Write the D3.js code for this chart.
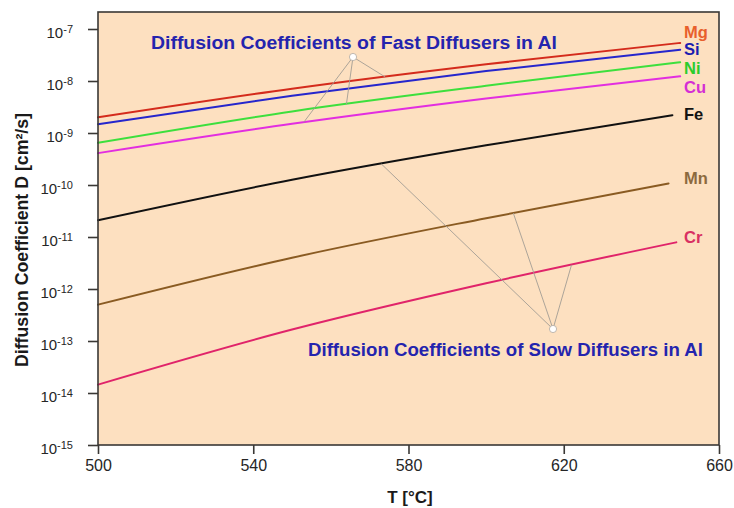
<!DOCTYPE html>
<html>
<head>
<meta charset="utf-8">
<script src="https://cdn.jsdelivr.net/npm/d3@7/dist/d3.min.js"></script>
<style>
  html, body { margin: 0; padding: 0; background: #ffffff; }
  svg { display: block; font-family: Arial, "Liberation Sans", Helvetica, sans-serif; }
</style>
</head>
<body>
<svg id="chart" width="734" height="508"></svg>
<script>
// Diffusion coefficients of alloying elements in aluminium, D [cm²/s]
const elements = ["Mg", "Si", "Ni", "Cu", "Fe", "Mn", "Cr"];
const temps = [500, 550, 600];                       // °C, common sample points
const endTemps = [650, 650, 650, 650, 648, 647, 649]; // last point of each curve
const valuesMg = [2.0e-9, 7.1e-9, 2.1e-8, 5.4e-8];
const valuesSi = [1.48e-9, 5.2e-9, 1.55e-8, 4.0e-8];
const valuesNi = [6.5e-10, 2.6e-9, 8.1e-9, 2.3e-8];
const valuesCu = [4.1e-10, 1.5e-9, 4.6e-9, 1.23e-8];
const valuesFe = [2.1e-11, 1.26e-10, 5.8e-10, 2.2e-9];
const valuesMn = [5.0e-13, 4.0e-12, 2.3e-11, 1.07e-10];
const valuesCr = [1.45e-14, 1.66e-13, 1.29e-12, 7.9e-12];
const xTicks = [500, 540, 580, 620, 660];
const yExponents = [-7, -8, -9, -10, -11, -12, -13, -14, -15];
const fastText = "Diffusion Coefficients of Fast Diffusers in Al";
const slowText = "Diffusion Coefficients of Slow Diffusers in Al";
// leader lines: element and the temperature where each one touches its curve
const fastLeaders = [["Cu", 553], ["Ni", 564], ["Mg", 574]];
const slowLeaders = [["Fe", 573], ["Mn", 607], ["Cr", 622]];

const seriesValues = [valuesMg, valuesSi, valuesNi, valuesCu, valuesFe, valuesMn, valuesCr];

// ---- styling / layout ----
const lineColors  = ["#d42b1c", "#2626cc", "#3ddf3d", "#e22ee0", "#111111", "#8a5b22", "#e0246a"];
const labelColors = ["#e85f2c", "#1c1cb0", "#2ccc2c", "#d42ed4", "#141414", "#8c6a3e", "#d83062"];
const labelShift  = [-11, -1, 6, 11, -1, -5, -5];

const svg = d3.select("#chart");
const plotL = 98, plotR = 719, plotT = 12, plotB = 445;

const x = d3.scaleLinear().domain([500, 660]).range([plotL, plotR]);
const y = d3.scaleLog().domain([1e-15, Math.pow(10, -6.673)]).range([plotB, plotT]);

// plot panel
svg.append("rect")
  .attr("x", plotL).attr("y", plotT)
  .attr("width", plotR - plotL).attr("height", plotB - plotT)
  .attr("fill", "#fde0c0");

const series = elements.map((name, i) => ({
  name,
  points: temps.concat([endTemps[i]]).map((t, k) => ({ t, d: seriesValues[i][k] })),
  lineColor: lineColors[i],
  labelColor: labelColors[i],
  shift: labelShift[i]
}));
const byName = Object.fromEntries(series.map(s => [s.name, s]));

const line = d3.line()
  .x(p => x(p.t))
  .y(p => y(p.d))
  .curve(d3.curveMonotoneX);

// value on a curve at any temperature, following the drawn (log-linear) segments
function valueAt(s, t) {
  const pts = s.points;
  for (let k = 0; k < pts.length - 1; k++) {
    if (t >= pts[k].t && t <= pts[k + 1].t) {
      const f = (t - pts[k].t) / (pts[k + 1].t - pts[k].t);
      return Math.pow(10, Math.log10(pts[k].d) + f * (Math.log10(pts[k + 1].d) - Math.log10(pts[k].d)));
    }
  }
  return pts[pts.length - 1].d;
}

// leader lines for the two annotations
const leaderColor = "#a39d94";
function leaders(list, cx, cy) {
  list.forEach(([name, t]) => {
    const s = byName[name];
    svg.append("line")
      .attr("x1", cx).attr("y1", cy)
      .attr("x2", x(t)).attr("y2", y(valueAt(s, t)))
      .attr("stroke", leaderColor).attr("stroke-width", 0.9);
  });
  svg.append("circle")
    .attr("cx", cx).attr("cy", cy).attr("r", 3.6)
    .attr("fill", "#ffffff").attr("stroke", "#b0aaa2").attr("stroke-width", 0.8);
}

// curves
svg.append("g").selectAll("path")
  .data(series)
  .join("path")
  .attr("d", s => line(s.points))
  .attr("fill", "none")
  .attr("stroke", s => s.lineColor)
  .attr("stroke-width", 2)
  .attr("stroke-linecap", "round");

leaders(fastLeaders, 353, 57);
leaders(slowLeaders, 553, 329);

// curve names at the right end
svg.append("g").selectAll("text")
  .data(series)
  .join("text")
  .attr("x", 684)
  .attr("y", s => y(s.points[s.points.length - 1].d) + s.shift)
  .attr("dy", "0.36em")
  .attr("fill", s => s.labelColor)
  .attr("font-size", 16.5)
  .attr("font-weight", "bold")
  .text(s => s.name);

// annotation texts
svg.append("text")
  .attr("x", 151).attr("y", 49)
  .attr("fill", "#2424ae")
  .attr("font-size", 17.5).attr("font-weight", "bold")
  .attr("textLength", 406).attr("lengthAdjust", "spacingAndGlyphs")
  .text(fastText);
svg.append("text")
  .attr("x", 308).attr("y", 356)
  .attr("fill", "#2424ae")
  .attr("font-size", 17.5).attr("font-weight", "bold")
  .attr("textLength", 395).attr("lengthAdjust", "spacingAndGlyphs")
  .text(slowText);

// frame
svg.append("rect")
  .attr("x", plotL).attr("y", plotT)
  .attr("width", plotR - plotL).attr("height", plotB - plotT)
  .attr("fill", "none")
  .attr("stroke", "#3a3835").attr("stroke-width", 1.6);

// x axis
const xAxis = d3.axisBottom(x).tickValues(xTicks).tickSize(9).tickPadding(6).tickFormat(d3.format("d"));
const gx = svg.append("g").attr("transform", `translate(0,${plotB})`).call(xAxis);
gx.select(".domain").remove();
gx.selectAll(".tick line").attr("stroke", "#3a3835").attr("stroke-width", 1.6);
gx.selectAll(".tick text").attr("fill", "#262626").attr("font-size", 16)
  .attr("font-family", "Arial, 'Liberation Sans', sans-serif");

// y axis with power-of-ten labels
const yAxis = d3.axisLeft(y).tickValues(yExponents.map(e => Math.pow(10, e))).tickSize(10).tickFormat("");
const gy = svg.append("g").attr("transform", `translate(${plotL},0)`).call(yAxis);
gy.select(".domain").remove();
gy.selectAll(".tick line").attr("stroke", "#3a3835").attr("stroke-width", 1.6);

const yLab = svg.append("g").selectAll("text")
  .data(yExponents)
  .join("text")
  .attr("x", 73)
  .attr("y", e => y(Math.pow(10, e)) + 9)
  .attr("text-anchor", "end")
  .attr("fill", "#262626")
  .attr("font-size", 15);
yLab.append("tspan").text("10");
yLab.append("tspan").attr("dy", -5.5).attr("font-size", 11).text(e => e);

// axis titles
svg.append("text")
  .attr("x", 410).attr("y", 503)
  .attr("text-anchor", "middle")
  .attr("fill", "#1a1a1a")
  .attr("font-size", 17).attr("font-weight", "bold")
  .text("T [°C]");

svg.append("text")
  .attr("transform", "translate(28,240) rotate(-90)")
  .attr("text-anchor", "middle")
  .attr("fill", "#1a1a1a")
  .attr("font-size", 17.5).attr("font-weight", "bold")
  .attr("textLength", 254).attr("lengthAdjust", "spacingAndGlyphs")
  .text("Diffusion Coefficient D [cm²/s]");
</script>
</body>
</html>
